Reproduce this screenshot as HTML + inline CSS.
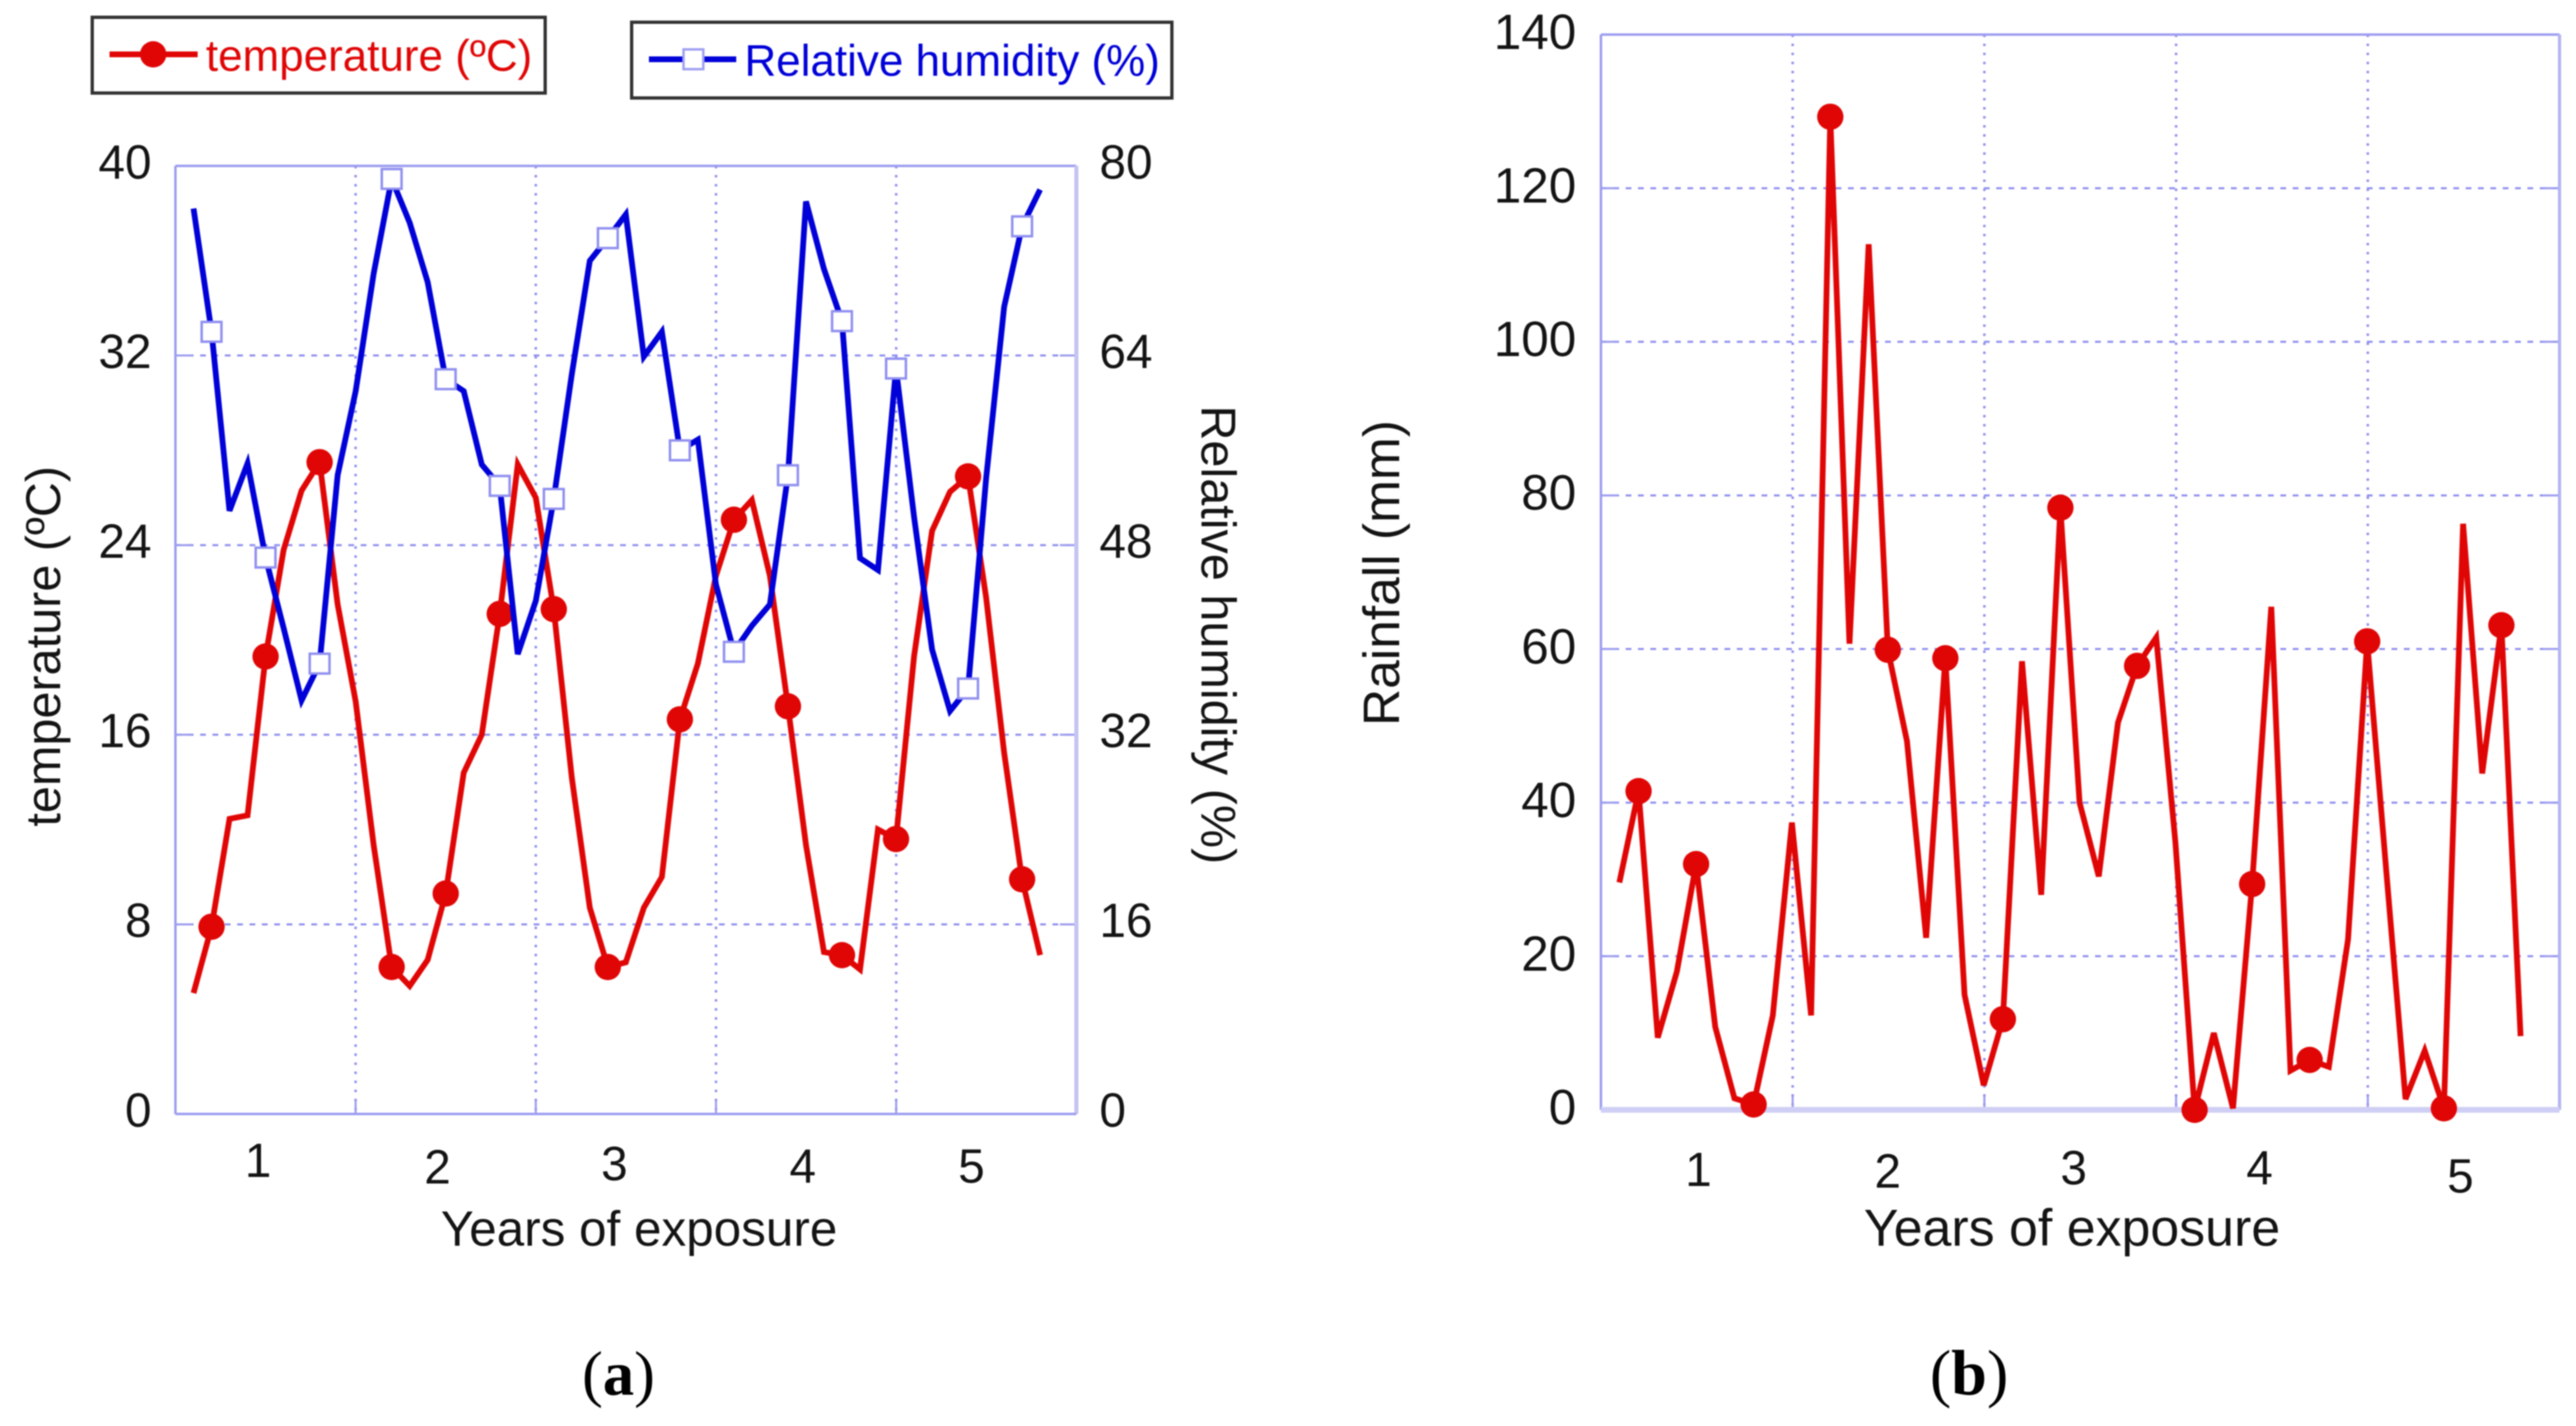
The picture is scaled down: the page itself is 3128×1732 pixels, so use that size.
<!DOCTYPE html>
<html lang="en">
<head>
<meta charset="utf-8">
<title>Temperature, relative humidity and rainfall over years of exposure</title>
<style>
html,body{margin:0;padding:0;background:#fff;}
svg{display:block;filter:blur(0.7px);}
text{font-family:"Liberation Sans",sans-serif;fill:#141414;}
</style>
</head>
<body>
<svg id="figure" xmlns="http://www.w3.org/2000/svg" width="3128" height="1732" viewBox="0 0 3128 1732">
  <rect width="3128" height="1732" fill="#fff"/>

  <g id="panel-a"></g>
  <g id="panel-b"></g>

  <g>
    <rect x="112" y="21" width="550" height="92" fill="#fff" stroke="#333" stroke-width="4"/>
    <line x1="133" y1="66" x2="240" y2="66" stroke="#e00606" stroke-width="7"/>
    <circle cx="186" cy="66" r="16" fill="#e00606"/>
    <text x="250" y="86" font-size="53.4" style="fill:#e00606">temperature (ºC)</text>
  </g>
  <g>
    <rect x="767" y="27" width="656" height="92" fill="#fff" stroke="#333" stroke-width="4"/>
    <line x1="788" y1="72" x2="894" y2="72" stroke="#0000d8" stroke-width="7"/>
    <rect x="830" y="60" width="24" height="24" fill="#fff" stroke="#a0a0f2" stroke-width="3"/>
    <text x="904" y="92" font-size="53.4" style="fill:#0000d8">Relative humidity (%)</text>
  </g>

  <text transform="translate(73 785) rotate(-90)" text-anchor="middle" font-size="59">temperature (ºC)</text>
  <text transform="translate(1459 771) rotate(90)" text-anchor="middle" font-size="59">Relative humidity (%)</text>
  <text x="776" y="1513" text-anchor="middle" font-size="60">Years of exposure</text>

  <text transform="translate(1699 696) rotate(-90)" text-anchor="middle" font-size="62.5">Rainfall (mm)</text>
  <text x="2516" y="1513" text-anchor="middle" font-size="63">Years of exposure</text>

  <text x="751" y="1694" text-anchor="middle" font-size="76" style="font-family:'Liberation Serif',serif;fill:#000">(<tspan font-weight="bold">a</tspan>)</text>
  <text x="2391" y="1694" text-anchor="middle" font-size="78" style="font-family:'Liberation Serif',serif;fill:#000">(<tspan font-weight="bold">b</tspan>)</text>
</svg>

<script>
// ---- Chart data ----
const yearLabels = ['1', '2', '3', '4', '5'];
const temperatureTicks = [0, 8, 16, 24, 32, 40];
const humidityTicks = [0, 16, 32, 48, 64, 80];
const rainfallTicks = [0, 20, 40, 60, 80, 100, 120, 140];

const temperatureValues = [
  5.1, 7.9, 12.45, 12.6, 19.3, 23.8, 26.3, 27.5, 21.5, 17.4, 11.35, 6.2,
  5.4, 6.5, 9.3, 14.4, 16.0, 21.1, 27.4, 26.0, 21.3, 14.2, 8.7, 6.2,
  6.4, 8.7, 10.0, 16.65, 19.0, 22.7, 25.07, 25.9, 22.7, 17.2, 11.35, 6.83,
  6.7, 6.1, 12.0, 11.6, 19.3, 24.6, 26.25, 26.9, 21.8, 15.25, 9.9, 6.7
];
const humidityValues = [
  76.4, 66.0, 50.9, 54.9, 46.95, 41.0, 34.9, 38.0, 53.9, 61.0, 70.9, 78.9,
  75.2, 70.2, 62.0, 61.0, 54.8, 53.0, 38.8, 43.3, 51.9, 62.4, 72.0, 73.9,
  75.9, 63.9, 66.0, 56.0, 56.9, 44.7, 39.0, 41.2, 43.0, 53.9, 77.0, 71.3,
  66.9, 46.9, 45.9, 62.9, 50.4, 39.2, 34.0, 35.9, 53.6, 68.1, 74.9, 78.0
];
const rainfallValues = [
  29.6, 41.5, 9.4, 18.0, 32.0, 10.8, 1.5, 0.7, 12.3, 37.4, 12.3, 129.3,
  60.7, 112.7, 59.9, 48.0, 22.4, 58.8, 15.0, 3.2, 11.8, 58.4, 28.0, 78.4,
  40.0, 30.4, 50.4, 57.8, 61.5, 34.8, 0.0, 10.0, 0.2, 29.4, 65.5, 5.1,
  6.5, 5.6, 22.2, 61.0, 31.0, 1.4, 7.7, 0.2, 76.3, 43.8, 63.1, 9.6
];
const temperatureMarkerSamples = [1, 4, 7, 11, 14, 17, 20, 23, 27, 30, 33, 36, 39, 43, 46];
const rainfallMarkerSamples = [1, 4, 7, 11, 14, 17, 20, 23, 27, 30, 33, 36, 39, 43, 46];

// ---- Drawing ----
const NS = 'http://www.w3.org/2000/svg';
const RED = '#e00606', BLUE = '#0000d8', GRID = '#9090f0', AXIS = '#9c9cf0';

function make(tag, parent, attrs) {
  const el = document.createElementNS(NS, tag);
  for (const k in attrs) el.setAttribute(k, attrs[k]);
  parent.appendChild(el);
  return el;
}
function linear(d0, d1, r0, r1) {
  return v => r0 + (v - d0) * (r1 - r0) / (d1 - d0);
}

function drawGrid(g, box, gridXCount, yValues, yScale) {
  for (let i = 1; i < gridXCount; i++) {
    const x = box.left + (box.right - box.left) * i / gridXCount;
    const v = make('line', g, { x1: x, x2: x, y1: box.top, y2: box.bottom, stroke: GRID, 'stroke-width': 3, 'stroke-dasharray': '3 8' });
    
    
    const tk = make('line', g, { x1: x, x2: x, y1: box.bottom - 16, y2: box.bottom, stroke: AXIS, 'stroke-width': 2.5 });
    
    
  }
  yValues.forEach(val => {
    const y = yScale(val);
    if (y <= box.top + 1 || y >= box.bottom - 1) return;
    const h = make('line', g, { x1: box.left, x2: box.right, y1: y, y2: y, stroke: GRID, 'stroke-width': 2.5, 'stroke-dasharray': '7 8' });
    
    
    const t1 = make('line', g, { x1: box.left, x2: box.left + 20, y1: y, y2: y, stroke: AXIS, 'stroke-width': 2.5 });
    
    
    const t2 = make('line', g, { x1: box.right - 20, x2: box.right, y1: y, y2: y, stroke: AXIS, 'stroke-width': 2.5 });
    
    
  });
}

function drawFrame(g, box, rightColor, rightWidth, bottomColor, bottomWidth) {
  const top = make('line', g, { x1: box.left, x2: box.right, y1: box.top, y2: box.top, stroke: AXIS, 'stroke-width': 3 });
  
  
  const left = make('line', g, { x1: box.left, x2: box.left, y1: box.top, y2: box.bottom, stroke: AXIS, 'stroke-width': 3 });
  
  
  const right = make('line', g, { x1: box.right, x2: box.right, y1: box.top, y2: box.bottom, stroke: rightColor, 'stroke-width': rightWidth });
  
  
  const bottom = make('line', g, { x1: box.left, x2: box.right, y1: box.bottom, y2: box.bottom, stroke: bottomColor, 'stroke-width': bottomWidth });
  
  
}

function drawLine(g, values, xScale, yScale, color, name) {
  const pts = values.map((v, i) => xScale(i).toFixed(1) + ',' + yScale(v).toFixed(1)).join(' ');
  const line = make('polyline', g, { points: pts, fill: 'none', stroke: color, 'stroke-width': 7, 'stroke-linejoin': 'miter' });
  
  
}

function drawYTicks(g, labels, yScale, x, anchor, size, shift, name) {
  labels.forEach(val => {
    const t = make('text', g, { x: x, y: yScale(val) + shift + size * 0.35, 'text-anchor': anchor, 'font-size': size });
    
    
    t.textContent = String(val);
  });
}

function drawYearLabels(g, labelX, labelY, size) {
  yearLabels.forEach((lab, i) => {
    const t = make('text', g, { x: labelX(i), y: labelY(i) + size * 0.35, 'text-anchor': 'middle', 'font-size': size });
    
    
    t.textContent = lab;
  });
}

// Panel a
(function () {
  const g = document.getElementById('panel-a');
  const box = { left: 213, right: 1307, top: 201.5, bottom: 1353 };
  const x = linear(0, temperatureValues.length - 1, 235, 1263);
  const yT = linear(0, 40, box.bottom, box.top);
  const yH = linear(0, 80, box.bottom, box.top);
  drawGrid(g, box, 5, temperatureTicks, yT);
  drawFrame(g, box, '#c4c4f5', 5, AXIS, 3);
  drawLine(g, temperatureValues, x, yT, RED, 'temperature-line');
  temperatureMarkerSamples.forEach(i => {
    const c = make('circle', g, { cx: x(i), cy: yT(temperatureValues[i]), r: 16, fill: RED });
    
    
  });
  drawLine(g, humidityValues, x, yH, BLUE, 'humidity-line');
  temperatureMarkerSamples.forEach(i => {
    const r = make('rect', g, { x: x(i) - 12, y: yH(humidityValues[i]) - 12, width: 24, height: 24, fill: '#fff', stroke: GRID, 'stroke-width': 3 });
    
    
  });
  drawYTicks(g, temperatureTicks, yT, 184, 'end', 58, -5, 'temperature-tick-label');
  drawYTicks(g, humidityTicks, yH, 1335, 'start', 58, -5, 'humidity-tick-label');
  const labelOffsetX = [-9, -10, -14, -4, -18];
  const labelOffsetY = [1409, 1417, 1413, 1416, 1416];
  drawYearLabels(g, i => box.left + (box.right - box.left) * (i + 0.5) / 5 + labelOffsetX[i], i => labelOffsetY[i], 58);
})();

// Panel b
(function () {
  const g = document.getElementById('panel-b');
  const box = { left: 1944, right: 3108, top: 42, bottom: 1348 };
  const x = linear(0, rainfallValues.length - 1, 1966.4, 3060.7);
  const y = linear(0, 140, box.bottom, box.top);
  drawGrid(g, box, 5, rainfallTicks, y);
  drawFrame(g, box, '#b4b4f3', 4, '#cfcff6', 7);
  drawLine(g, rainfallValues, x, y, RED, 'rainfall-line');
  rainfallMarkerSamples.forEach(i => {
    const c = make('circle', g, { cx: x(i), cy: y(rainfallValues[i]), r: 16, fill: RED });
    
    
  });
  drawYTicks(g, rainfallTicks, y, 1914, 'end', 60, -3.5, 'rainfall-tick-label');
  const labelOffsetX = [2, -1, -8, -15, -4];
  const labelOffsetY = [1420, 1422, 1418, 1418, 1428];
  drawYearLabels(g, i => box.left + (box.right - box.left) * (i + 0.5) / 5 + labelOffsetX[i], i => labelOffsetY[i], 58);
})();
</script>
</body>
</html>
